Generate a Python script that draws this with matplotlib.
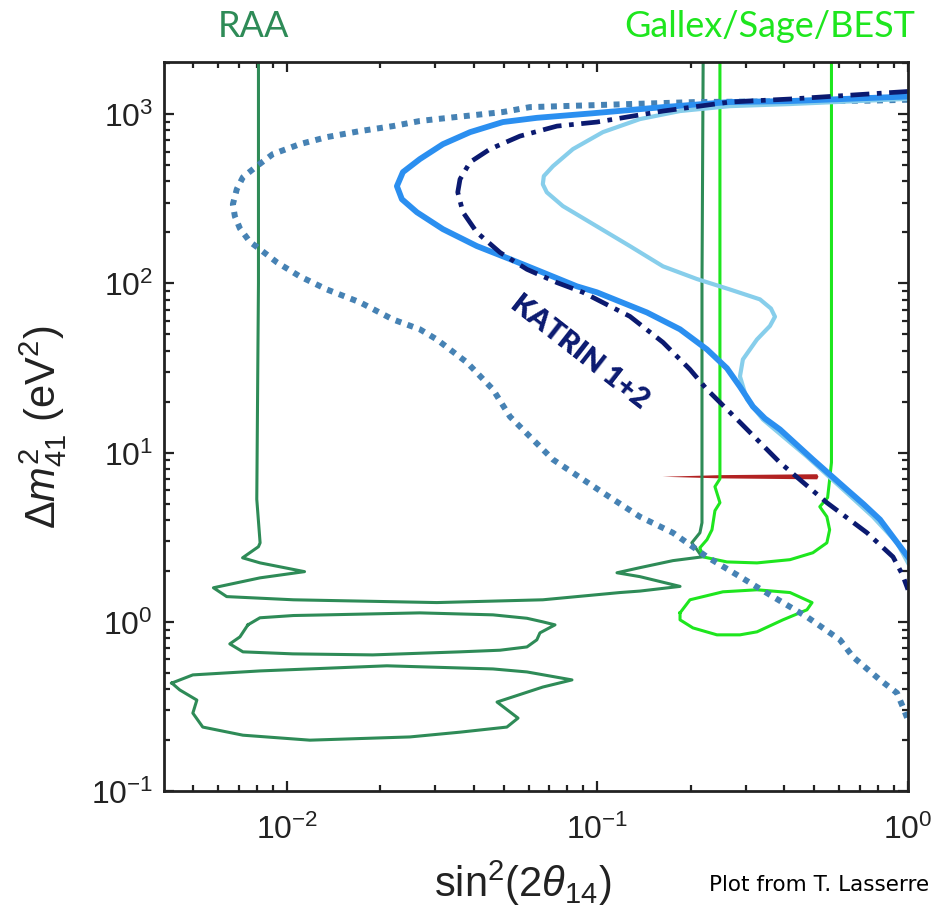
#!/usr/bin/env python3
# -*- coding: utf-8 -*-

import numpy as np
import matplotlib
matplotlib.use("Agg")
import matplotlib.pyplot as plt
from matplotlib.ticker import LogLocator, NullFormatter

matplotlib.rcParams['mathtext.fontset'] = 'custom'
matplotlib.rcParams['mathtext.rm'] = 'Liberation Sans'
matplotlib.rcParams['mathtext.it'] = 'Liberation Sans:italic'
matplotlib.rcParams['mathtext.default'] = 'regular'

# RAA contour (outer line + two islands)
RAA_X = [0.0081, 0.0081, 0.0080, 0.0082, 0.0081, 0.0072, 0.0082, 0.0114, 0.0082, 0.0058,
         0.0064, 0.0105, 0.0304, 0.0667, 0.1182, 0.137, 0.1845, 0.137, 0.1156, 0.137,
         0.175, 0.2171, 0.2092, 0.2013, 0.2138, 0.2171, 0.2171, 0.219]
RAA_Y = [2100, 100, 5.3, 2.93, 2.78, 2.39, 2.23, 1.98, 1.82, 1.59,
         1.41, 1.35, 1.30, 1.35, 1.49, 1.52, 1.62, 1.85, 1.95, 2.09,
         2.30, 2.42, 2.67, 2.93, 3.36, 3.85, 96, 2100]
RAA_I1_X = [0.00749, 0.00819, 0.0105, 0.01345, 0.0268, 0.0461, 0.0593, 0.0667, 0.0730,
            0.0653, 0.0638, 0.0593, 0.0486, 0.0361, 0.0189, 0.01045, 0.00722, 0.00655,
            0.00706, 0.00749]
RAA_I1_Y = [0.960, 1.057, 1.09, 1.10, 1.13, 1.10, 1.05, 1.0, 0.960,
            0.861, 0.783, 0.711, 0.68, 0.665, 0.638, 0.647, 0.665, 0.741,
            0.815, 0.960]
RAA_I2_X = [0.00426, 0.00498, 0.00819, 0.0210, 0.0461, 0.0593, 0.0828, 0.0667,
            0.0475, 0.0555, 0.0511, 0.0361, 0.0249, 0.01186, 0.00722, 0.00536,
            0.00498, 0.00513, 0.00452, 0.00426]
RAA_I2_Y = [0.435, 0.486, 0.513, 0.550, 0.527, 0.506, 0.454, 0.412,
            0.336, 0.270, 0.239, 0.223, 0.209, 0.200, 0.214, 0.239,
            0.289, 0.345, 0.396, 0.435]

# Gallex/Sage/BEST contour
GAL_X = [0.248, 0.248, 0.239, 0.248, 0.239, 0.2338, 0.2253, 0.2138, 0.2188, 0.2612,
         0.3264, 0.417, 0.494, 0.548, 0.5594, 0.548, 0.520, 0.551, 0.5594, 0.567, 0.567]
GAL_Y = [2100, 7.0, 6.29, 5.06, 4.54, 3.50, 3.06, 2.74, 2.42, 2.26,
         2.23, 2.33, 2.56, 2.93, 3.50, 4.18, 4.79, 5.42, 6.92, 8.73, 2100]
GAL_I_X = [0.1845, 0.1986, 0.2536, 0.3264, 0.417, 0.491, 0.4728, 0.3957,
           0.3264, 0.2877, 0.2426, 0.203, 0.1845, 0.1845]
GAL_I_Y = [1.13, 1.35, 1.505, 1.547, 1.49, 1.30, 1.178, 1.028,
           0.873, 0.838, 0.838, 0.921, 1.028, 1.13]

# Neutrino-4 best fit band
NEU_X = [0.162, 0.25, 0.51, 0.515, 0.51, 0.25, 0.162]
NEU_Y = [7.2, 7.36, 7.45, 7.2, 6.95, 7.04, 7.2]

# dotted sensitivity
DOT_X = [1.0, 0.754, 0.2092, 0.1272, 0.0606, 0.0496, 0.0304, 0.0268, 0.02195, 0.01718,
         0.01345, 0.0110, 0.00901, 0.0080, 0.00722, 0.0069, 0.0067, 0.0068, 0.00706, 0.0076,
         0.00819, 0.00929, 0.0110, 0.01345, 0.01718, 0.02195, 0.0268, 0.0304, 0.038, 0.0461,
         0.0523, 0.0719, 0.1041, 0.137, 0.175, 0.2253, 0.2877, 0.367, 0.4728, 0.604,
         0.6653, 0.8127, 0.922, 0.963, 1.0]
DOT_Y = [1215, 1200, 1178, 1146, 1099, 1028, 934, 910, 849, 793,
         731, 664, 580, 492, 424, 360, 293, 249, 211, 176,
         159, 133, 110, 92, 77.3, 61.2, 53.5, 46.6, 34.1, 23.6,
         16.3, 9.1, 5.80, 4.18, 3.36, 2.42, 1.85, 1.41, 1.07, 0.783,
         0.621, 0.454, 0.380, 0.314, 0.263]

# solid blue
BLUE_X = [1.0, 0.417, 0.267, 0.1626, 0.096, 0.0638, 0.0496, 0.0389, 0.0318, 0.0268,
          0.02364, 0.02261, 0.02346, 0.02622, 0.0318, 0.0409, 0.0523, 0.0667, 0.0859, 0.0996,
          0.1443, 0.1845, 0.2253, 0.2612, 0.2877, 0.3168, 0.3463, 0.387, 0.494, 0.636,
          0.72, 0.8127, 0.908, 1.0]
BLUE_Y = [1270, 1194, 1178, 1099, 1010, 950, 897, 782, 664, 542,
          454, 375, 314, 263, 209, 166, 139, 116, 96, 88.5,
          67.3, 53.5, 40.7, 31.5, 24.5, 18.7, 15.9, 13.7, 9.1, 6.04,
          4.95, 4.02, 3.06, 2.42]

# light blue
LBLUE_X = [1.0, 0.417, 0.267, 0.1845, 0.137, 0.1041, 0.0834, 0.0719, 0.0672, 0.0667,
           0.0687, 0.0774, 0.0996, 0.1272, 0.1626, 0.2092, 0.267, 0.3337, 0.362, 0.373,
           0.3594, 0.3264, 0.294, 0.2877, 0.303, 0.341, 0.4728, 0.604, 0.771, 0.922, 1.0]
LBLUE_Y = [1230, 1146, 1114, 1042, 934, 782, 621, 492, 430, 385,
           345, 286, 217, 166, 126, 106, 92, 80.4, 71, 63.5,
           56, 46.6, 35.5, 28.2, 20.6, 15.7, 9.47, 6.29, 4.18, 2.93, 2.23]

# KATRIN 1+2 (dash-dot)
KAT_X = [1.0, 0.417, 0.267, 0.1626, 0.0996, 0.0741, 0.0563, 0.0451, 0.0389, 0.0361,
         0.0355, 0.0369, 0.0409, 0.0486, 0.0593, 0.0741, 0.0898, 0.1272, 0.1626, 0.1986,
         0.2253, 0.2877, 0.387, 0.548, 0.738, 0.895, 0.96, 1.0]
KAT_Y = [1360, 1227, 1178, 1042, 897, 849, 741, 621, 520, 412,
         345, 263, 200, 152, 121, 101, 88.5, 63.8, 44.8, 31.0,
         23.6, 15.1, 8.73, 5.06, 3.36, 2.42, 1.9, 1.55]

XLIM = (0.00402, 1.0)
YLIM = (0.1, 2030)

C_RAA = '#2e8b57'
C_GAL = '#1ee61e'
C_NEU = '#b22222'
C_DOT = '#4682b4'
C_BLUE = '#2b8ff0'
C_LBLUE = '#87ceeb'
C_KAT = '#0b1a70'

TICKLBLSIZE = 23
AXISLBLSIZE = 30


def main():
    fig = plt.figure(figsize=(9.38, 9.2), dpi=100)
    ax = fig.add_axes([0.1748, 0.139, 0.9680 - 0.1748, 0.9315 - 0.139])

    ax.plot(RAA_X, RAA_Y, color=C_RAA, lw=2.2)
    ax.plot(RAA_I1_X, RAA_I1_Y, color=C_RAA, lw=2.2)
    ax.plot(RAA_I2_X, RAA_I2_Y, color=C_RAA, lw=2.2)

    ax.plot(GAL_X, GAL_Y, color=C_GAL, lw=2.2)
    ax.plot(GAL_I_X, GAL_I_Y, color=C_GAL, lw=2.2)

    ax.fill(NEU_X, NEU_Y, color=C_NEU, lw=0)

    ax.plot(DOT_X, DOT_Y, color=C_DOT, lw=4.3, linestyle=(0, (1, 1.1)),
            dash_capstyle='butt')
    ax.plot(LBLUE_X, LBLUE_Y, color=C_LBLUE, lw=3.0, solid_joinstyle='round')
    ax.plot(BLUE_X, BLUE_Y, color=C_BLUE, lw=4.2, solid_joinstyle='round')
    ax.plot(KAT_X, KAT_Y, color=C_KAT, lw=3.4, linestyle=(0, (4, 1.6, 1, 1.6)))

    ax.set_xscale('log')
    ax.set_yscale('log')
    ax.set_xlim(*XLIM)
    ax.set_ylim(*YLIM)

    ax.xaxis.set_major_locator(LogLocator(base=10, numticks=10))
    ax.yaxis.set_major_locator(LogLocator(base=10, numticks=10))
    ax.xaxis.set_minor_locator(LogLocator(base=10, subs=np.arange(2, 10), numticks=20))
    ax.yaxis.set_minor_locator(LogLocator(base=10, subs=np.arange(2, 10), numticks=20))
    ax.xaxis.set_minor_formatter(NullFormatter())
    ax.yaxis.set_minor_formatter(NullFormatter())

    ax.tick_params(which='both', direction='in', top=True, right=True,
                   width=1.6, colors='#222222', labelcolor='#222222')
    ax.tick_params(which='major', length=7, labelsize=TICKLBLSIZE)
    ax.tick_params(axis='y', which='major', pad=8)
    ax.tick_params(axis='x', which='major', pad=16)
    ax.tick_params(which='minor', length=4)
    for s in ax.spines.values():
        s.set_linewidth(2.0)
        s.set_color('#222222')

    for lbl in ax.get_xticklabels() + ax.get_yticklabels():
        lbl.set_family('Liberation Sans')

    fig.text(0.046, 0.535, r'$\Delta \mathit{m}^2_{41}$ (eV$^2$)', rotation=90,
             ha='center', va='center', fontsize=AXISLBLSIZE, color='#222222',
             family='Liberation Sans')
    fig.text(0.557, 0.040, r'sin$^2$(2$\mathit{\theta}_{14}$)', ha='center', va='center',
             fontsize=AXISLBLSIZE, color='#222222', family='Liberation Sans')

    ax.text(0.0879, 39.6, 'KATRIN 1+2', rotation=-38, ha='center', va='center',
            fontsize=21, fontweight='heavy', color=C_KAT, family='Lato')

    fig.text(0.270, 0.971, 'RAA', ha='center', va='center', fontsize=26,
             color=C_RAA, family='Lato')
    fig.text(0.821, 0.971, 'Gallex/Sage/BEST', ha='center', va='center',
             fontsize=26, color=C_GAL, family='Lato')

    fig.text(0.991, 0.038, 'Plot from T. Lasserre', ha='right', va='center',
             fontsize=15.5, color='black', family='DejaVu Sans')

    plt.savefig('out.png', dpi=100)
    plt.close()


if __name__ == "__main__":
    main()
